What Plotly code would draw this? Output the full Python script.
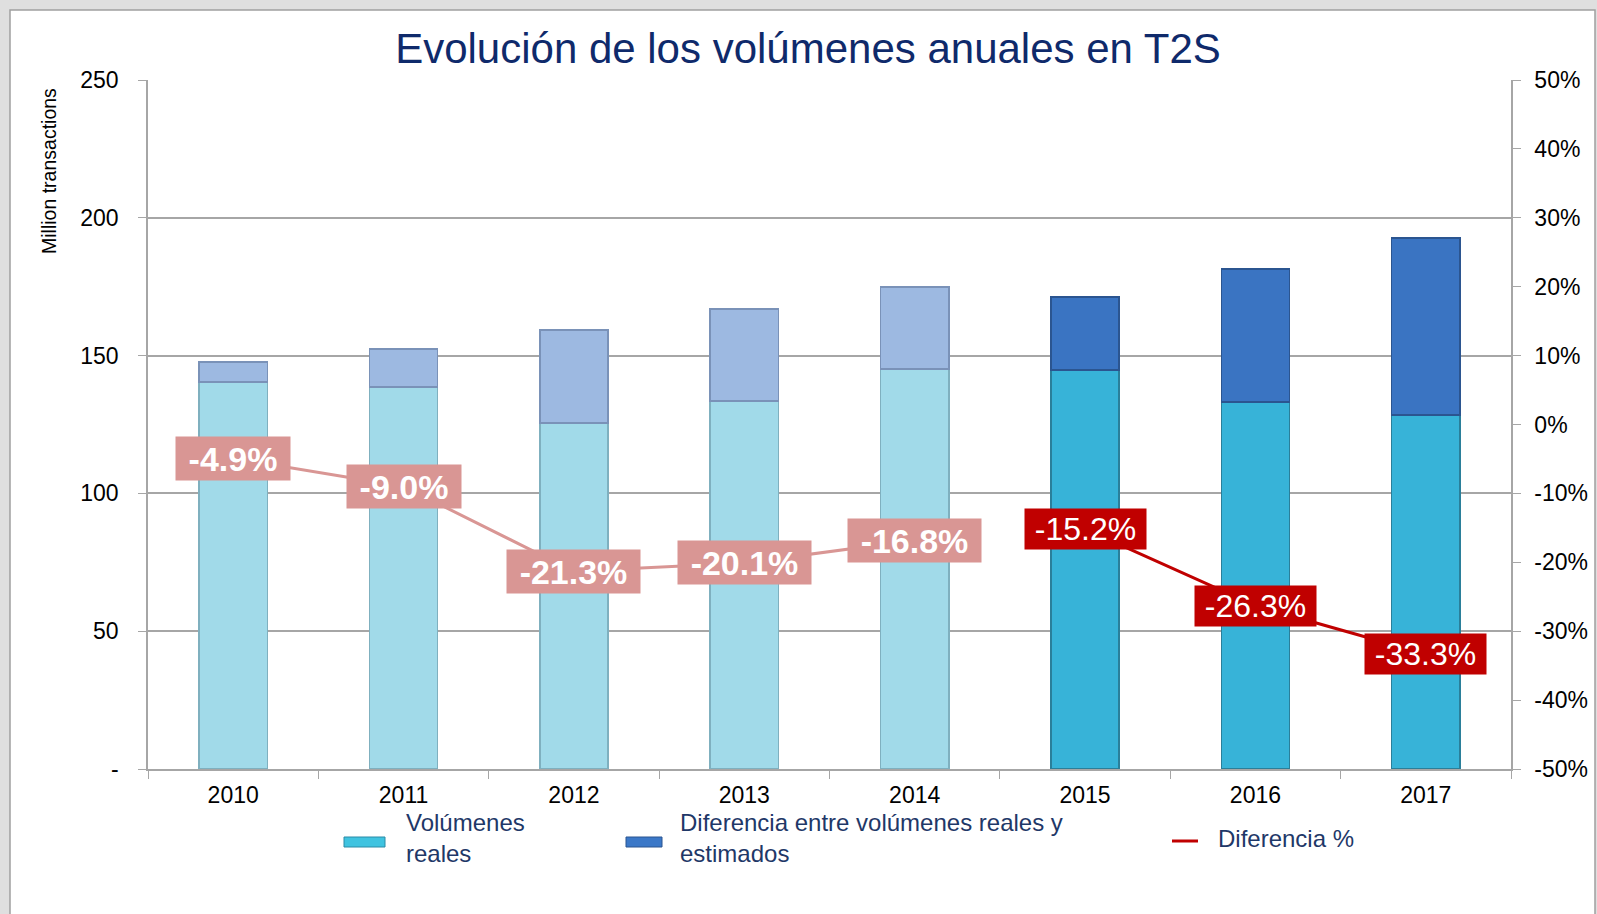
import plotly.graph_objects as go

# ---- data ----
years = ["2010", "2011", "2012", "2013", "2014", "2015", "2016", "2017"]
volumenes_reales = [140.4, 138.6, 125.5, 133.5, 145.1, 144.8, 133.2, 128.4]
volumenes_estimados = [147.7, 152.4, 159.3, 166.9, 174.9, 171.3, 181.4, 192.7]
diferencia_pct = [-4.9, -9.0, -21.3, -20.1, -16.8, -15.2, -26.3, -33.3]
left_tickvals = [0, 50, 100, 150, 200, 250]
left_ticktext = ["-", "50", "100", "150", "200", "250"]
right_tickvals = [-50, -40, -30, -20, -10, 0, 10, 20, 30, 40, 50]

diferencia = [e - r for e, r in zip(volumenes_estimados, volumenes_reales)]

# ---- geometry helpers (pixel -> paper) ----
W, H = 1597, 914
L, R, T, B = 148, 1511, 80, 769


def px(x):
    return (x - L) / (R - L)


def py(y):
    return (B - y) / (B - T)


FONT = "Liberation Sans, Arial, sans-serif"
NAVY = "#0F2A6B"
GRID = "#A6A6A6"

n_hist = 5
real_colors = ["#A1DAE9"] * n_hist + ["#37B3D8"] * (len(years) - n_hist)
real_lines = ["#7FB0BF"] * n_hist + ["#2A7F9A"] * (len(years) - n_hist)
diff_colors = ["#9DB9E1"] * n_hist + ["#3A74C2"] * (len(years) - n_hist)
diff_lines = ["#7A92B8"] * n_hist + ["#2B5590"] * (len(years) - n_hist)

fig = go.Figure()

fig.add_trace(go.Bar(
    x=years, y=volumenes_reales, name="Volúmenes reales",
    marker=dict(color=real_colors, line=dict(color=real_lines, width=1.5)),
    showlegend=False,
))
fig.add_trace(go.Bar(
    x=years, y=diferencia, name="Diferencia entre volúmenes reales y estimados",
    marker=dict(color=diff_colors, line=dict(color=diff_lines, width=1.5)),
    showlegend=False,
))

fig.add_trace(go.Scatter(
    x=years[:n_hist], y=diferencia_pct[:n_hist], yaxis="y2", mode="lines",
    line=dict(color="#D99694", width=3), showlegend=False,
))
fig.add_trace(go.Scatter(
    x=years[n_hist:], y=diferencia_pct[n_hist:], yaxis="y2", mode="lines",
    line=dict(color="#C00000", width=3), showlegend=False,
))

annotations = []
for i, v in enumerate(diferencia_pct):
    txt = f"{v:.1f}%"
    hist = i < n_hist
    annotations.append(dict(
        x=i, y=v, xref="x", yref="y2", text=f"<b>{txt}</b>" if hist else txt,
        showarrow=False, xanchor="center", yanchor="middle",
        font=dict(family=FONT, size=34 if hist else 32, color="white"),
        bgcolor="#D99694" if hist else "#C00000",
        width=19 * len(txt) + 13 if hist else 115, height=37 if hist else 34,
        borderpad=3,
    ))

# y axis title
annotations.append(dict(
    x=px(49), y=py(171), xref="paper", yref="paper", text="Million transactions",
    textangle=-90, showarrow=False, xanchor="center", yanchor="middle",
    font=dict(family=FONT, size=19.5, color="black"),
))

# legend texts
leg_font = dict(family=FONT, size=24, color="#1F3868")
annotations.append(dict(x=px(404), y=py(838), xref="paper", yref="paper",
                        text="Volúmenes<br>reales", showarrow=False, align="left",
                        xanchor="left", yanchor="middle", font=leg_font))
annotations.append(dict(x=px(678), y=py(838), xref="paper", yref="paper",
                        text="Diferencia entre volúmenes reales y<br>estimados",
                        showarrow=False, align="left",
                        xanchor="left", yanchor="middle", font=leg_font))
annotations.append(dict(x=px(1216), y=py(838), xref="paper", yref="paper",
                        text="Diferencia %", showarrow=False, align="left",
                        xanchor="left", yanchor="middle", font=leg_font))

shapes = [
    # white panel
    dict(type="rect", xref="paper", yref="paper", x0=px(10), x1=px(1595),
         y0=py(930), y1=py(10), fillcolor="white",
         line=dict(color="#A0A0A0", width=1.5), layer="below"),
    # legend swatches
    dict(type="rect", xref="paper", yref="paper", x0=px(344), x1=px(385),
         y0=py(847), y1=py(837), fillcolor="#3FC3E0",
         line=dict(color="#2A8BA6", width=1)),
    dict(type="rect", xref="paper", yref="paper", x0=px(626), x1=px(662),
         y0=py(847), y1=py(837), fillcolor="#3B78C8",
         line=dict(color="#2A5590", width=1)),
    dict(type="line", xref="paper", yref="paper", x0=px(1172), x1=px(1198),
         y0=py(841), y1=py(841), line=dict(color="#C00000", width=3)),
]

fig.update_layout(
    width=W, height=H,
    margin=dict(l=L, r=W - R, t=T, b=H - B, autoexpand=False),
    paper_bgcolor="#DFDFDF", plot_bgcolor="white",
    barmode="stack", bargap=0.6,
    font=dict(family=FONT, color="black"),
    title=dict(text="Evolución de los volúmenes anuales en T2S",
               x=808 / W, y=1 - 48 / H, xanchor="center", yanchor="middle",
               font=dict(family=FONT, size=42, color=NAVY)),
    xaxis=dict(
        type="category", categoryorder="array", categoryarray=years,
        range=[-0.5, len(years) - 0.5], autorange=False, automargin=False,
        showline=True, linecolor=GRID, linewidth=1.5,
        ticks="outside", tickson="boundaries", ticklen=8, tickcolor=GRID,
        tickfont=dict(size=23, color="black"), showgrid=False,
        ticklabelstandoff=5,
    ),
    yaxis=dict(
        range=[0, 250], tickvals=left_tickvals, ticktext=left_ticktext,
        automargin=False,
        showline=True, linecolor=GRID, linewidth=1.5,
        ticks="outside", ticklen=8, tickcolor=GRID,
        showgrid=True, gridcolor=GRID, gridwidth=1.5, zeroline=False,
        tickfont=dict(size=23, color="black"), ticklabelstandoff=15,
    ),
    yaxis2=dict(
        range=[-50, 50], tickvals=right_tickvals,
        ticktext=[f"{v}%" for v in right_tickvals],
        overlaying="y", side="right", automargin=False,
        showline=True, linecolor=GRID, linewidth=1.5,
        ticks="outside", ticklen=8, tickcolor=GRID,
        showgrid=False, zeroline=False,
        tickfont=dict(size=23, color="black"), ticklabelstandoff=9,
    ),
    annotations=annotations,
    shapes=shapes,
)

fig.write_html("out.html", config={"displayModeBar": False},
               post_script="document.body.style.margin='0';")
